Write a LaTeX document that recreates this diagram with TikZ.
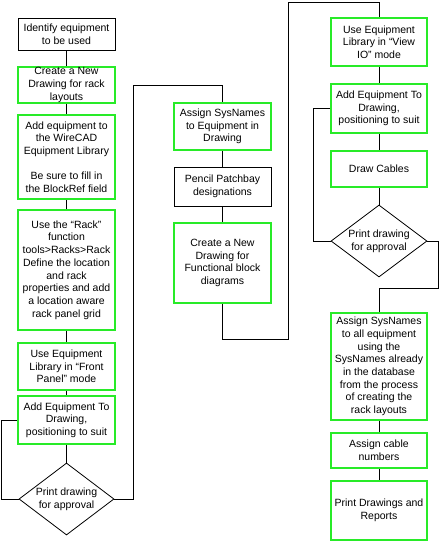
\documentclass[tikz,border=0pt]{standalone}
\usepackage{fontspec}
\setmainfont{Liberation Sans}
\usetikzlibrary{shapes.geometric}
\definecolor{boxgreen}{RGB}{40,235,40}
\begin{document}
\begin{tikzpicture}[x=1pt,y=-1pt,
  every node/.style={font=\fontsize{10.5}{12.7}\selectfont, align=center, inner sep=0pt},
  gbox/.style={draw=boxgreen, line width=2pt, rectangle, minimum width=97pt},
  kbox/.style={draw=black, line width=0.8pt, rectangle, minimum width=97pt},
  decision/.style={draw=black, line width=0.8pt, diamond, aspect=1.32, minimum width=95pt, minimum height=72pt},
  link/.style={draw=black, line width=0.8pt}]
\useasboundingbox (0,0) rectangle (439,542);
% column 1
\node[kbox, minimum height=32pt] (b1) at (66.5,34) {Identify equipment\\to be used};
\node[gbox, minimum height=36pt] (b2) at (66.5,85) {Create a New\\Drawing for rack\\layouts};
\node[gbox, minimum height=84pt] (b3) at (66.5,157) {Add equipment to\\the WireCAD\\Equipment Library\\[12.7pt]Be sure to fill in\\the BlockRef field};
\node[gbox, minimum height=120pt] (b4) at (66.5,270) {Use the “Rack”\\function\\tools>Racks>Rack\\Define the location\\and rack\\properties and add\\a location aware\\rack panel grid};
\node[gbox, minimum height=47pt] (b5) at (66.5,366.5) {Use Equipment\\Library in “Front\\Panel” mode};
\node[gbox, minimum height=48pt] (b6) at (66.5,420) {Add Equipment To\\Drawing,\\positioning to suit};
\node[decision] (d1) at (66.5,499) {Print drawing\\for approval};
% column 2
\node[gbox, minimum height=47pt] (b7) at (222.5,126.5) {Assign SysNames\\to Equipment in\\Drawing};
\node[kbox, minimum height=39pt] (b8) at (222.5,186.5) {Pencil Patchbay\\designations};
\node[gbox, minimum height=80pt] (b9) at (222.5,263) {Create a New\\Drawing for\\Functional block\\diagrams};
% column 3
\node[gbox, minimum width=96pt, minimum height=48pt] (b10) at (379,42) {Use Equipment\\Library in “View\\IO” mode};
\node[gbox, minimum width=96pt, minimum height=49pt] (b11) at (379,108.5) {Add Equipment To\\Drawing,\\positioning to suit};
\node[gbox, minimum width=96pt, minimum height=36pt] (b12) at (379,169) {Draw Cables};
\node[decision, minimum width=96pt] (d2) at (379,241) {Print drawing\\for approval};
\node[gbox, minimum width=96pt, minimum height=107pt] (b13) at (379,366.5) {Assign SysNames\\to all equipment\\using the\\SysNames already\\in the database\\from the process\\of creating the\\rack layouts};
\node[gbox, minimum width=96pt, minimum height=35pt] (b14) at (379,450.5) {Assign cable\\numbers};
\node[gbox, minimum width=96pt, minimum height=59pt] (b15) at (379,510.5) {Print Drawings and\\Reports};
% corner coordinates
\coordinate (l1a) at (1,499);
\coordinate (l1b) at (1,420);
\coordinate (r1a) at (133,499);
\coordinate (r1b) at (133,85);
\coordinate (r1c) at (222.5,85);
\coordinate (c2a) at (222.5,339);
\coordinate (c2b) at (288,339);
\coordinate (c2c) at (288,2);
\coordinate (c2d) at (379,2);
\coordinate (l2a) at (313,241);
\coordinate (l2b) at (313,108.5);
\coordinate (r2a) at (438,241);
\coordinate (r2b) at (438,288);
\coordinate (r2c) at (379,288);
% straight links
\draw[link] (b1) -- (b2);
\draw[link] (b2) -- (b3);
\draw[link] (b3) -- (b4);
\draw[link] (b4) -- (b5);
\draw[link] (b5) -- (b6);
\draw[link] (b6) -- (d1);
\draw[link] (b7) -- (b8);
\draw[link] (b8) -- (b9);
\draw[link] (b10) -- (b11);
\draw[link] (b11) -- (b12);
\draw[link] (b12) -- (d2);
\draw[link] (b13) -- (b14);
\draw[link] (b14) -- (b15);
% loops and transfers
\draw[link] (d1.west) -- (l1a) -- (l1b) -- (b6.west);
\draw[link] (d1.east) -- (r1a) -- (r1b) -- (r1c) -- (b7.north);
\draw[link] (b9.south) -- (c2a) -- (c2b) -- (c2c) -- (c2d) -- (b10.north);
\draw[link] (d2.west) -- (l2a) -- (l2b) -- (b11.west);
\draw[link] (d2.east) -- (r2a) -- (r2b) -- (r2c) -- (b13.north);
\end{tikzpicture}
\end{document}
